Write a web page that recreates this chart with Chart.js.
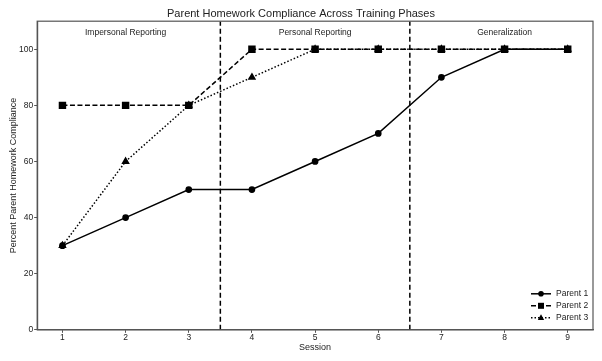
<!DOCTYPE html>
<html><head><meta charset="utf-8">
<script src="https://cdn.jsdelivr.net/npm/chart.js@4/dist/chart.umd.min.js"></script>
<style>html,body{margin:0;padding:0;background:#fff}#w{width:602px;height:361px}</style>
</head><body><div id="w"><canvas id="c" width="602" height="361"></canvas></div>
<script>
const sessions = [1,2,3,4,5,6,7,8,9];
const parent1 = [30,40,50,50,60,70,90,100,100];
const parent2 = [80,80,80,100,100,100,100,100,100];
const parent3 = [30,60,80,90,100,100,100,100,100];
const yTicks = [0,20,40,60,80,100];
const phaseChanges = [3.5, 6.5];
const phaseNames = ["Impersonal Reporting","Personal Reporting","Generalization"];
const phaseCenters = [2,5,8];
const phaseLabelY = 106;

const FONT = "'Liberation Sans', Arial, sans-serif";
const pts = a => sessions.map((s,i)=>({x:s,y:a[i]}));

const datasets = [
  {label:'Parent 1',order:2,data:pts(parent1),borderColor:'#000',backgroundColor:'#000',borderWidth:1.5,pointStyle:'circle',pointRadius:2.6,borderDash:[]},
  {label:'Parent 2',order:0,data:pts(parent2),borderColor:'#000',backgroundColor:'#000',borderWidth:1.5,pointStyle:'rect',pointRadius:4.2,borderDash:[5,2.5]},
  {label:'Parent 3',order:1,data:pts(parent3),borderColor:'#000',backgroundColor:'#000',borderWidth:1.5,pointStyle:'triangle',pointRadius:3.4,borderDash:[1.5,2]},
];
phaseChanges.forEach(p=>datasets.push({label:'',isPhase:true,order:3,data:[{x:p,y:0},{x:p,y:110}],borderColor:'#000',borderWidth:1.5,borderDash:[5,3],pointRadius:0}));

const extras = {
  id:'extras',
  afterDraw(chart){
    const {ctx, chartArea:a, scales:{x,y}} = chart;
    ctx.save();
    ctx.strokeStyle='#555'; ctx.lineWidth=1.2;
    ctx.strokeRect(a.left,a.top,a.right-a.left,a.bottom-a.top);
    ctx.fillStyle='#222'; ctx.font='8.5px '+FONT; ctx.textAlign='center'; ctx.textBaseline='middle';
    phaseNames.forEach((n,i)=>ctx.fillText(n,x.getPixelForValue(phaseCenters[i]),y.getPixelForValue(phaseLabelY)));
    // legend
    const ds = chart.data.datasets.filter(d=>!d.isPhase);
    const lx = a.right-62, ly0 = a.bottom-36, lh=12;
    ds.forEach((d,i)=>{
      const yy = ly0+i*lh;
      ctx.strokeStyle='#000'; ctx.lineWidth=1.5; ctx.setLineDash(d.borderDash);
      ctx.beginPath(); ctx.moveTo(lx,yy); ctx.lineTo(lx+20,yy); ctx.stroke(); ctx.setLineDash([]);
      ctx.fillStyle='#000';
      const cx=lx+10;
      if(d.pointStyle==='circle'){ctx.beginPath();ctx.arc(cx,yy,2.8,0,Math.PI*2);ctx.fill();}
      else if(d.pointStyle==='rect'){ctx.fillRect(cx-3,yy-3,6,6);}
      else {ctx.beginPath();ctx.moveTo(cx,yy-3.5);ctx.lineTo(cx+3.2,yy+2.3);ctx.lineTo(cx-3.2,yy+2.3);ctx.closePath();ctx.fill();}
      ctx.fillStyle='#222'; ctx.textAlign='left'; ctx.font='8.5px '+FONT;
      ctx.fillText(d.label,lx+25,yy);
    });
    ctx.restore();
  }
};

new Chart(document.getElementById('c'),{
  type:'line',
  data:{datasets},
  options:{
    responsive:false, animation:false,
    layout:{padding:{left:9,right:9,top:0,bottom:9}},
    plugins:{
      legend:{display:false}, tooltip:{enabled:false},
      title:{display:true,text:'Parent Homework Compliance Across Training Phases',color:'#222',font:{family:FONT,size:11,weight:'normal'},padding:{top:7,bottom:1}}
    },
    scales:{
      x:{type:'linear',min:0.6,max:9.4,
        afterBuildTicks(s){s.ticks=sessions.map(v=>({value:v}));},
        ticks:{color:'#222',font:{family:FONT,size:8.5},padding:0,maxRotation:0,callback:v=>String(v)},
        grid:{display:true,drawOnChartArea:false,drawTicks:true,tickLength:3,color:'#555'},
        border:{display:true,color:'#555',width:1.2},
        title:{display:true,text:'Session',color:'#222',font:{family:FONT,size:9,lineHeight:1},padding:{top:0,bottom:0}}},
      y:{type:'linear',min:0,max:110,
        afterBuildTicks(s){s.ticks=yTicks.map(v=>({value:v}));},
        ticks:{color:'#222',font:{family:FONT,size:8.5},padding:1},
        grid:{display:true,drawOnChartArea:false,drawTicks:true,tickLength:3,color:'#555'},
        border:{display:true,color:'#555',width:1.2},
        title:{display:true,text:'Percent Parent Homework Compliance',color:'#222',font:{family:FONT,size:9,lineHeight:1},padding:{top:0,bottom:0}}}
    }
  },
  plugins:[extras]
});
</script></body></html>
